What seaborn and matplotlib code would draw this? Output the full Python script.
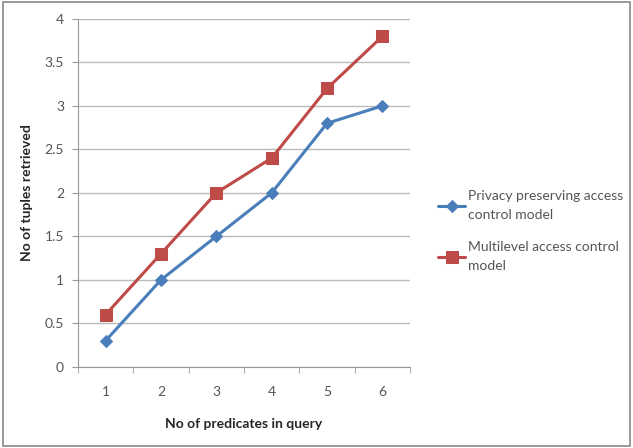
import pandas as pd
import matplotlib.pyplot as plt
import seaborn as sns

# values
predicates = [1, 2, 3, 4, 5, 6]
privacy = [0.3, 1.0, 1.5, 2.0, 2.8, 3.0]
multilevel = [0.6, 1.3, 2.0, 2.4, 3.2, 3.8]
series_names = ['Privacy preserving access\ncontrol model',
                'Multilevel access control\nmodel']

df = pd.DataFrame({
    'predicates': predicates * 2,
    'tuples': privacy + multilevel,
    'model': [series_names[0]] * 6 + [series_names[1]] * 6,
})

sns.set_style('white')
plt.rcParams['font.family'] = ['Lato', 'DejaVu Sans']

fig = plt.figure(figsize=(6.33, 4.48), dpi=100)
ax = fig.add_axes([0.123, 0.181, 0.525, 0.777])

palette = {series_names[0]: '#4A7EBB', series_names[1]: '#BE4B48'}
markers = {series_names[0]: 'D', series_names[1]: 's'}
sizes_m = {series_names[0]: 6, series_names[1]: 9}

for name in series_names:
    sub = df[df['model'] == name]
    sns.lineplot(data=sub, x='predicates', y='tuples', ax=ax, color=palette[name],
                 marker=markers[name], markersize=sizes_m[name], linewidth=2.2,
                 markeredgecolor=palette[name], label=name)

ax.set_xlim(0.5, 6.5)
ax.set_ylim(0, 4)
ax.set_yticks([0, 0.5, 1, 1.5, 2, 2.5, 3, 3.5, 4])
ax.set_yticklabels(['0', '0.5', '1', '1.5', '2', '2.5', '3', '3.5', '4'])
ax.set_xticks(predicates)
ax.set_xticks([0.5, 1.5, 2.5, 3.5, 4.5, 5.5, 6.5], minor=True)
ax.tick_params(axis='x', which='major', length=0, pad=14, labelsize=10, labelcolor='#555555')
ax.tick_params(axis='x', which='minor', length=4, color='#999999', direction='out', bottom=True)
ax.tick_params(axis='y', length=4, color='#999999', direction='out', left=True,
               labelsize=10, labelcolor='#555555', pad=6)
ax.yaxis.grid(True, color='#BBBBBB', linewidth=1)
ax.set_axisbelow(True)
for s in ['top', 'right']:
    ax.spines[s].set_visible(False)
ax.spines['left'].set_color('#999999')
ax.spines['bottom'].set_color('#999999')

ax.set_xlabel('No of predicates in query', fontsize=10, fontweight='bold', labelpad=14)
ax.set_ylabel('No of tuples retrieved', fontsize=10, fontweight='bold', labelpad=8)

leg = ax.legend(loc='center left', bbox_to_anchor=(1.045, 0.39), frameon=False,
                fontsize=10, handlelength=2.0, labelspacing=1.4, handletextpad=0.2)
for t in leg.get_texts():
    t.set_color('#555555')
    t.set_linespacing(1.75)

# chart border
fig.patches.append(plt.Rectangle((0.005, 0.005), 0.99, 0.99, transform=fig.transFigure,
                                 fill=False, edgecolor='#888888', linewidth=1.2))

plt.savefig('out.png', dpi=100)
